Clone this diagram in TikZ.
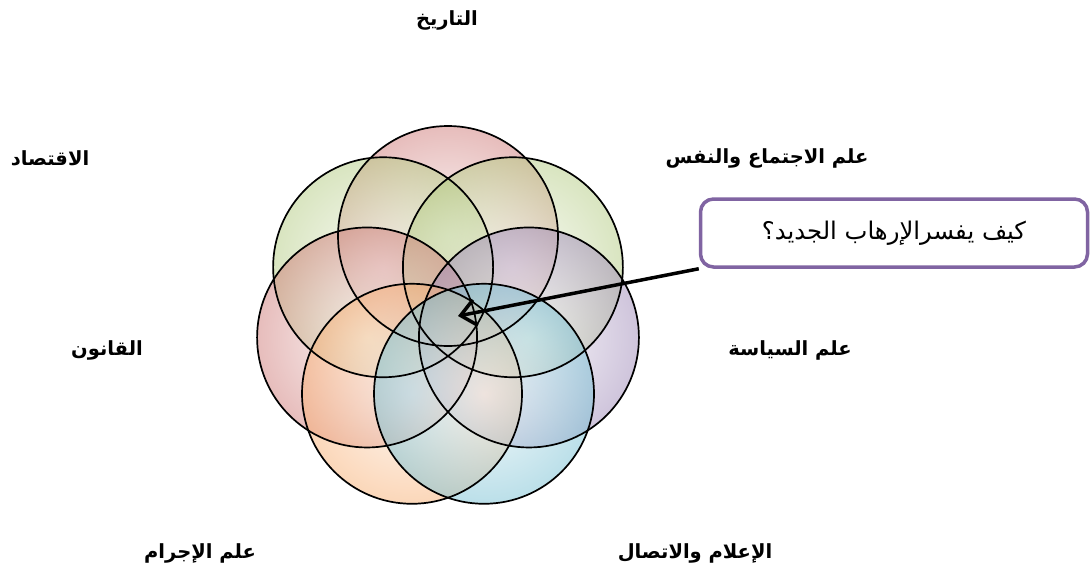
\documentclass[tikz,border=0pt]{standalone}
\usepackage{fontspec}
\usetikzlibrary{arrows.meta}
\newfontfamily\arabicfont[Script=Arabic]{DejaVu Sans}
\TeXXeTstate=1
\definecolor{cred}{HTML}{C0504D}
\definecolor{cgreen}{HTML}{9BBB59}
\definecolor{cpurple}{HTML}{8064A2}
\definecolor{cblue}{HTML}{4BACC6}
\definecolor{corange}{HTML}{F79646}
\tikzset{
  lbl/.style={font=\arabicfont\bfseries\fontsize{19.5}{23}\selectfont, inner sep=0pt},
  qbox/.style={draw=cpurple, line width=3.5pt, rounded corners=13pt, fill=white,
    minimum width=387pt, minimum height=68pt, font=\arabicfont\fontsize{24.3}{28}\selectfont},
  ring/.style={draw=black, line width=1.7pt},
  pointer/.style={draw=black, line width=3.5pt, -{Straight Barb[length=15pt,width=26pt,line width=3.5pt]}}
}
\begin{document}
\begin{tikzpicture}[x=1pt,y=-1pt]
\useasboundingbox (0,0) rectangle (1091,575);
\fill[white] (0,0) rectangle (1091,575);
\coordinate (O) at (448,319);
\foreach \ang/\col [count=\i] in {90/cred,141.43/cgreen,38.57/cgreen,-167.14/cred,-12.86/cpurple,-115.71/corange,-64.29/cblue}{
  \path (O) ++(\ang:83pt) coordinate (c\i);
  \shade[inner color=\col!8, outer color=\col!75, fill opacity=0.5] (c\i) circle[radius=110pt];
}
\foreach \i in {1,...,7}{
  \draw[ring] (c\i) circle[radius=110pt];
}
\node[lbl] (hist) at (447,20) {\beginR التاريخ\endR};
\node[lbl] (soc) at (767,158) {\beginR علم الاجتماع والنفس\endR};
\node[lbl] (eco) at (50,158) {\beginR الاقتصاد\endR};
\node[lbl] (law) at (107,350) {\beginR القانون\endR};
\node[lbl] (pol) at (790,350) {\beginR علم السياسة\endR};
\node[lbl] (crim) at (200,553) {\beginR علم الإجرام\endR};
\node[lbl] (media) at (695,553) {\beginR الإعلام والاتصال\endR};
\node[qbox] (q) at (894,233) {\beginR كيف يفسرالإرهاب الجديد؟\endR};
\coordinate (tip) at (458,316);
\draw[pointer] (q.south west) -- (tip);
\end{tikzpicture}
\end{document}
